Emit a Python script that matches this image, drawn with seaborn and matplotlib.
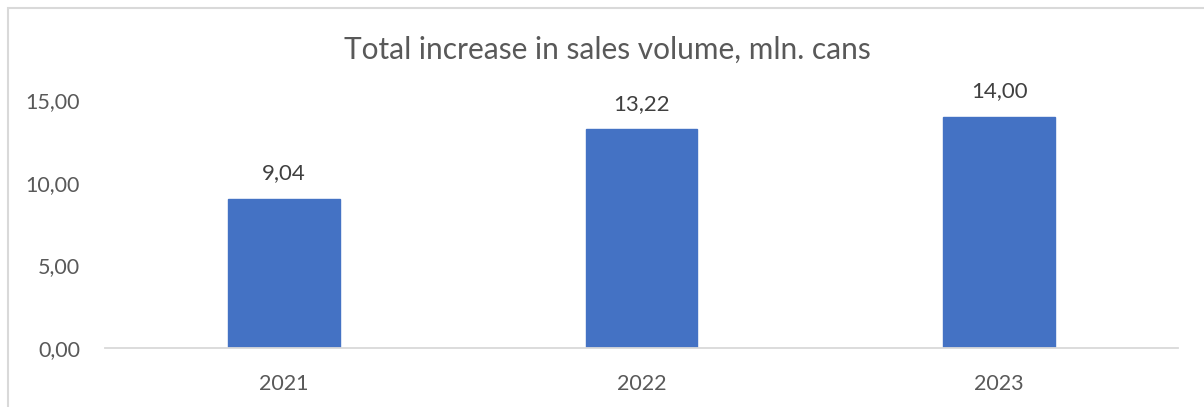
import matplotlib
matplotlib.use("Agg")
import matplotlib.pyplot as plt
import matplotlib.patches as mpatches
from matplotlib.ticker import FuncFormatter
import seaborn as sns
import pandas as pd

years = ["2021", "2022", "2023"]
volumes = [9.04, 13.22, 14.00]
title = "Total increase in sales volume, mln. cans"

sns.set_theme(style="white")
plt.rcParams["font.family"] = ["Lato", "DejaVu Sans"]

W, H = 1204, 407
fig = plt.figure(figsize=(W / 100, H / 100), dpi=100)
ax = fig.add_axes([105 / W, 1 - 348 / H, (1178 - 105) / W, (348 - 83.5) / H])

df = pd.DataFrame({"year": years, "volume": volumes})
sns.barplot(data=df, x="year", y="volume", color="#4472C4", width=0.313,
            saturation=1, ax=ax, edgecolor="#4472C4")

ax.set_ylim(0, 16)
ax.set_yticks([0, 5, 10, 15])
ax.yaxis.set_major_formatter(FuncFormatter(lambda v, _: f"{v:.2f}".replace(".", ",")))
ax.set_xlabel("")
ax.set_ylabel("")
for s in ["top", "right", "left"]:
    ax.spines[s].set_visible(False)
ax.spines["bottom"].set_color("#D9D9D9")
ax.spines["bottom"].set_linewidth(1.3)
ax.tick_params(axis="y", length=0, pad=18, labelsize=15.5, labelcolor="#595959")
ax.tick_params(axis="x", length=0, pad=19, labelsize=15.5, labelcolor="#595959")

for cont in ax.containers:
    ax.bar_label(cont, labels=[f"{v:.2f}".replace(".", ",") for v in volumes],
                 padding=11, fontsize=16, color="#404040")

fig.text(607 / W, 1 - 50 / H, title, ha="center", va="center",
         fontsize=21.5, color="#595959")

# chart frame
fig.patches.append(mpatches.Rectangle((8 / W, -0.1), 1.2, 1 - 8 / H + 0.1,
                                      transform=fig.transFigure, fill=False,
                                      edgecolor="#D9D9D9", linewidth=1.5))

fig.savefig("out.png", dpi=100)
